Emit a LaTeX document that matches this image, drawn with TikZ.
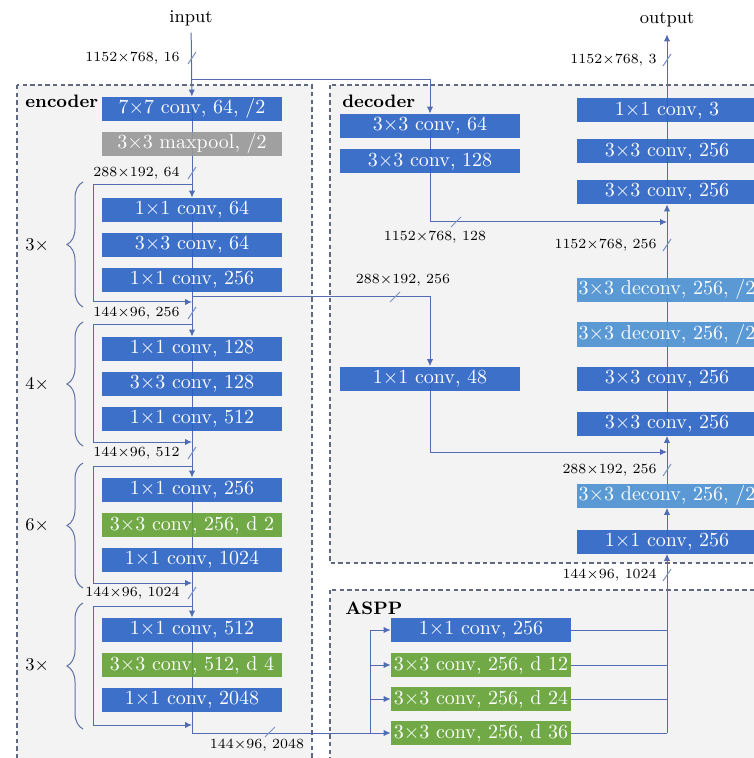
\documentclass[tikz,border=0pt]{standalone}
\usetikzlibrary{arrows.meta,decorations.pathreplacing}

\definecolor{convblue}{RGB}{42,98,196}
\definecolor{deconvblue}{RGB}{74,144,208}
\definecolor{dilgreen}{RGB}{98,162,52}
\definecolor{poolgray}{RGB}{152,152,152}
\definecolor{linkcol}{RGB}{82,108,178}
\definecolor{panelcol}{RGB}{95,105,128}
\definecolor{panelfill}{RGB}{243,243,244}

\pgfdeclarelayer{background}
\pgfsetlayers{background,main}

\tikzset{
  blk/.style={draw=none, fill=#1, fill opacity=0.9, text opacity=1, text=white,
    minimum width=90pt, minimum height=12pt, inner sep=0pt},
  conv/.style={blk=convblue},
  deconv/.style={blk=deconvblue},
  dil/.style={blk=dilgreen},
  pool/.style={blk=poolgray},
  link/.style={draw=linkcol, line width=0.5pt},
  arr/.style={link, -{Latex[length=3.5pt,width=3.2pt]}},
  panel/.style={draw=panelcol, dash pattern=on 2.2pt off 1.6pt, line width=0.9pt, fill=panelfill},
  paneltitle/.style={font=\small\bfseries, anchor=west, inner sep=0pt},
  dims/.style={font=\scriptsize, inner sep=1pt},
  busmark/.style={draw=linkcol!75, line width=0.5pt},
  rep/.style={draw=linkcol!70!gray, line width=0.5pt, decorate, decoration={brace, amplitude=8pt}},
}

\begin{document}
\begin{tikzpicture}[x=0.5pt, y=-0.5pt]
  \useasboundingbox (0,0) rectangle (753,758);

  % encoder column
  \node[conv] (e1) at (192,109) {7$\times$7 conv, 64, /2};
  \node[pool] (e2) at (192,144) {3$\times$3 maxpool, /2};
  \node[conv] (s1a) at (192,210) {1$\times$1 conv, 64};
  \node[conv] (s1b) at (192,245) {3$\times$3 conv, 64};
  \node[conv] (s1c) at (192,280) {1$\times$1 conv, 256};
  \node[conv] (s2a) at (192,349) {1$\times$1 conv, 128};
  \node[conv] (s2b) at (192,384) {3$\times$3 conv, 128};
  \node[conv] (s2c) at (192,419) {1$\times$1 conv, 512};
  \node[conv] (s3a) at (192,490) {1$\times$1 conv, 256};
  \node[dil] (s3b) at (192,525) {3$\times$3 conv, 256, d 2};
  \node[conv] (s3c) at (192,560) {1$\times$1 conv, 1024};
  \node[conv] (s4a) at (192,630) {1$\times$1 conv, 512};
  \node[dil] (s4b) at (192,665) {3$\times$3 conv, 512, d 4};
  \node[conv] (s4c) at (192,700) {1$\times$1 conv, 2048};

  % decoder
  \node[conv] (d1) at (430,126) {3$\times$3 conv, 64};
  \node[conv] (d2) at (430,161.5) {3$\times$3 conv, 128};
  \node[conv] (d3) at (430,378.5) {1$\times$1 conv, 48};

  \node[conv] (r1) at (667,110.5) {1$\times$1 conv, 3};
  \node[conv] (r2) at (667,151.5) {3$\times$3 conv, 256};
  \node[conv] (r3) at (667,192) {3$\times$3 conv, 256};
  \node[deconv] (r4) at (667,290) {3$\times$3 deconv, 256, /2};
  \node[deconv] (r5) at (667,334.5) {3$\times$3 deconv, 256, /2};
  \node[conv] (r6) at (667,378.5) {3$\times$3 conv, 256};
  \node[conv] (r7) at (667,423.5) {3$\times$3 conv, 256};
  \node[deconv] (r8) at (667,495.5) {3$\times$3 deconv, 256, /2};
  \node[conv] (r9) at (667,541.5) {1$\times$1 conv, 256};

  % ASPP
  \node[conv] (a1) at (481,630) {1$\times$1 conv, 256};
  \node[dil] (a2) at (481,665) {3$\times$3 conv, 256, d 12};
  \node[dil] (a3) at (481,699) {3$\times$3 conv, 256, d 24};
  \node[dil] (a4) at (481,733) {3$\times$3 conv, 256, d 36};

  \node[font=\small] (input) at (191,18) {input};
  \node[font=\small] (output) at (667,20) {output};

  \coordinate (inbr) at (192,80);
  \coordinate (res1in) at (192,185);  \coordinate (res1out) at (192,302);
  \coordinate (res2in) at (192,325);  \coordinate (res2out) at (192,442);
  \coordinate (res3in) at (192,466);  \coordinate (res3out) at (192,583);
  \coordinate (res4in) at (192,606);  \coordinate (res4out) at (192,725);
  \coordinate (skip) at (192,297);
  \coordinate (asppin) at (370,733);
  \coordinate (asppout) at (667,733);
  \coordinate (cat1) at (667,222);
  \coordinate (cat2) at (667,452);

  \begin{pgfonlayer}{background}
    \draw[panel] (17,85) rectangle (312,764);
    \draw[panel] (330,85) rectangle (790,563);
    \draw[panel] (330,590) rectangle (790,764);

    % encoder spine
    \draw[arr] (input) -- (e1);
    \draw[arr] (inbr) -| (d1);
    \draw[link] (e1.center) -- (e2.center);
    \draw[arr] (e2.center) -- (s1a.north);
    \draw[link] (s1a.center) -- (s1c.center);
    \draw[arr] (s1c.center) -- (s2a.north);
    \draw[link] (s2a.center) -- (s2c.center);
    \draw[arr] (s2c.center) -- (s3a.north);
    \draw[link] (s3a.center) -- (s3c.center);
    \draw[arr] (s3c.center) -- (s4a.north);
    \draw[link] (s4a.center) -- (s4c.center);
    \draw[link] (s4c.center) |- (asppin);

    % shortcuts
    \draw[arr] (res1in) -- ++(-99,0) |- (res1out);
    \draw[arr] (res2in) -- ++(-99,0) |- (res2out);
    \draw[arr] (res3in) -- ++(-99,0) |- (res3out);
    \draw[arr] (res4in) -- ++(-99,0) |- (res4out);

    % decoder
    \draw[link] (d1.center) -- (d2.center);
    \draw[arr] (d2.center) |- (cat1);
    \draw[arr] (skip) -| (d3);
    \draw[arr] (d3.center) |- (cat2);
    \draw[arr] (asppout) -- (r9.south);
    \draw[arr] (r9.center) -- (r8.south);
    \draw[arr] (r8.center) -- (r7.south);
    \draw[link] (r7.center) -- (r4.center);
    \draw[arr] (r4.center) -- (r3.south);
    \draw[link] (r3.center) -- (r1.center);
    \draw[arr] (r1.center) -- (output);

    % ASPP
    \draw[arr] (asppin) -- (a4);
    \draw[arr] (asppin) |- (a3);
    \draw[arr] (asppin) |- (a2);
    \draw[arr] (asppin) |- (a1);
    \draw[link] (a1) -| (asppout);
    \draw[link] (a2) -| (asppout);
    \draw[link] (a3) -| (asppout);
    \draw[link] (a4) -- (asppout);
  \end{pgfonlayer}

  \node[paneltitle] (enc) at (25,101) {encoder};
  \node[paneltitle] (dec) at (342,101) {decoder};
  \node[paneltitle] (aspp) at (345,608) {ASPP};

  % tensor sizes
  \draw[busmark] (188,64) -- (196,52);
  \draw[busmark] (188,179) -- (196,167);
  \draw[busmark] (188,319) -- (196,307);
  \draw[busmark] (188,459) -- (196,447);
  \draw[busmark] (188,599) -- (196,587);
  \draw[busmark] (265,737) -- (275,727);
  \draw[busmark] (451,227) -- (461,217);
  \draw[busmark] (390,302) -- (400,292);
  \draw[busmark] (663,66) -- (671,54);
  \draw[busmark] (663,251) -- (671,239);
  \draw[busmark] (663,476) -- (671,464);
  \draw[busmark] (663,581) -- (671,569);

  \node[dims, anchor=east] (t0) at (182,58) {1152$\times$768, 16};
  \node[dims, anchor=east] (t1) at (182,173) {288$\times$192, 64};
  \node[dims, anchor=east] (t2) at (182,313) {144$\times$96, 256};
  \node[dims, anchor=east] (t3) at (182,453) {144$\times$96, 512};
  \node[dims, anchor=east] (t4) at (182,593) {144$\times$96, 1024};
  \node[dims] (t5) at (257,745) {144$\times$96, 2048};
  \node[dims] (t6) at (435,237) {1152$\times$768, 128};
  \node[dims] (t7) at (403,280) {288$\times$192, 256};
  \node[dims, anchor=east] (t8) at (659,60) {1152$\times$768, 3};
  \node[dims, anchor=east] (t9) at (659,245) {1152$\times$768, 256};
  \node[dims, anchor=east] (t10) at (659,470) {288$\times$192, 256};
  \node[dims, anchor=east] (t11) at (659,575) {144$\times$96, 1024};

  % repeats
  \draw[rep] (83,307) -- (83,182);
  \draw[rep] (83,446) -- (83,322);
  \draw[rep] (83,588) -- (83,463);
  \draw[rep] (83,729) -- (83,603);
  \node[font=\small, anchor=east] (n1) at (56,245) {3$\times$};
  \node[font=\small, anchor=east] (n2) at (56,384) {4$\times$};
  \node[font=\small, anchor=east] (n3) at (56,525) {6$\times$};
  \node[font=\small, anchor=east] (n4) at (56,665) {3$\times$};
\end{tikzpicture}
\end{document}
